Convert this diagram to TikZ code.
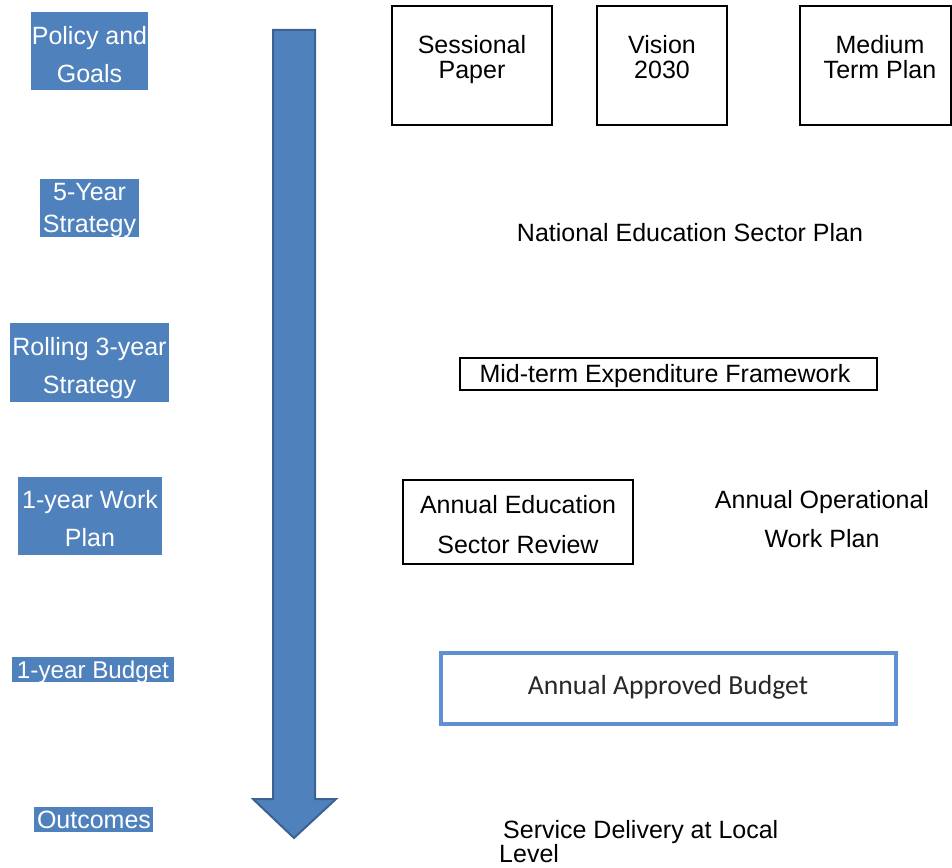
\documentclass[tikz,border=0pt]{standalone}
\usepackage{fontspec}
\setmainfont{Liberation Sans}
\newfontfamily\calib{Carlito}
\definecolor{lblue}{RGB}{79,129,189}
\definecolor{arrowedge}{RGB}{60,98,148}
\definecolor{budgetedge}{RGB}{95,145,210}
\definecolor{budgettext}{RGB}{40,40,40}
\tikzset{
  bluebox/.style={fill=lblue, inner sep=0pt},
  bluetext/.style={text=white, inner sep=0pt, align=center},
  plainbox/.style={draw=black, line width=1.5pt, inner sep=0pt},
  plaintext/.style={inner sep=0pt, align=center, text=black},
}
\begin{document}
\begin{tikzpicture}[x=1pt,y=-1pt]
\useasboundingbox (0,0) rectangle (952,867);
% left blue labels
\node[bluebox, minimum width=117pt, minimum height=78pt] (pg) at (89.5,51) {};
\node[bluetext, font=\fontsize{25}{38}\selectfont] (pgt) at (89.5,55) {Policy and\\Goals};
\node[bluebox, minimum width=99pt, minimum height=58pt] (fy) at (89.5,208) {};
\node[bluetext, font=\fontsize{25}{32}\selectfont] (fyt) at (89.5,210) {5-Year\\Strategy};
\node[bluebox, minimum width=159pt, minimum height=79pt] (r3) at (89.5,362.5) {};
\node[bluetext, font=\fontsize{25}{38}\selectfont] (r3t) at (89.5,368.5) {Rolling 3-year\\Strategy};
\node[bluebox, minimum width=144pt, minimum height=78pt] (wp) at (90,516) {};
\node[bluetext, font=\fontsize{25}{38}\selectfont] (wpt) at (90,519) {1-year Work\\Plan};
\node[bluebox, minimum width=162pt, minimum height=25pt] (bud) at (93,669.5) {};
\node[bluetext, font=\fontsize{24.2}{28}\selectfont] (budt) at (93,672) {1-year Budget};
\node[bluebox, minimum width=119pt, minimum height=25pt] (out) at (93.5,819.5) {};
\node[bluetext, font=\fontsize{25}{28}\selectfont] (outt) at (94,819.5) {Outcomes};
% big arrow
\filldraw[fill=lblue, draw=arrowedge, line width=2pt, line join=miter]
  (273,30) -- (315,30) -- (315,799) -- (336,799) -- (294,838) -- (253,799) -- (273,799) -- cycle;
% top boxes
\node[plainbox, minimum width=160pt, minimum height=119pt] (sp) at (472,65.5) {};
\node[plaintext, font=\fontsize{25}{25}\selectfont] (spt) at (472,59.5) {Sessional\\Paper};
\node[plainbox, minimum width=130pt, minimum height=119pt] (vi) at (662,65.5) {};
\node[plaintext, font=\fontsize{25}{25}\selectfont] (vit) at (662,57.5) {Vision\\2030};
\node[plainbox, minimum width=151pt, minimum height=119pt] (mt) at (875.5,65.5) {};
\node[plaintext, font=\fontsize{25}{25}\selectfont] (mtt) at (880,57.5) {Medium\\Term Plan};
% middle texts
\node[plaintext, font=\fontsize{25}{30}\selectfont] (nesp) at (690,233) {National Education Sector Plan};
\node[plainbox, minimum width=417pt, minimum height=32pt] (mtef) at (668.5,374) {};
\node[plaintext, font=\fontsize{25}{30}\selectfont] (mteft) at (665,376) {Mid-term Expenditure Framework};
\node[plainbox, minimum width=230pt, minimum height=84pt] (aesr) at (518,522) {};
\node[plaintext, font=\fontsize{25}{40}\selectfont] (aesrt) at (518,525) {Annual Education\\Sector Review};
\node[plaintext, font=\fontsize{25}{39}\selectfont] (aowp) at (822,519) {Annual Operational\\Work Plan};
% budget box
\node[draw=budgetedge, line width=4pt, fill=white, minimum width=455pt, minimum height=71pt, inner sep=0pt] (aab) at (668.5,688.5) {};
\node[inner sep=0pt, text=budgettext, font=\calib\fontsize{27.6}{30}\selectfont] (aabt) at (668,687.5) {Annual Approved Budget};
% service delivery
\node[inner sep=0pt, align=left, anchor=west, font=\fontsize{25}{24}\selectfont] (sdl) at (499,842) {\hspace*{4pt}Service Delivery at Local\\Level};
\end{tikzpicture}
\end{document}
